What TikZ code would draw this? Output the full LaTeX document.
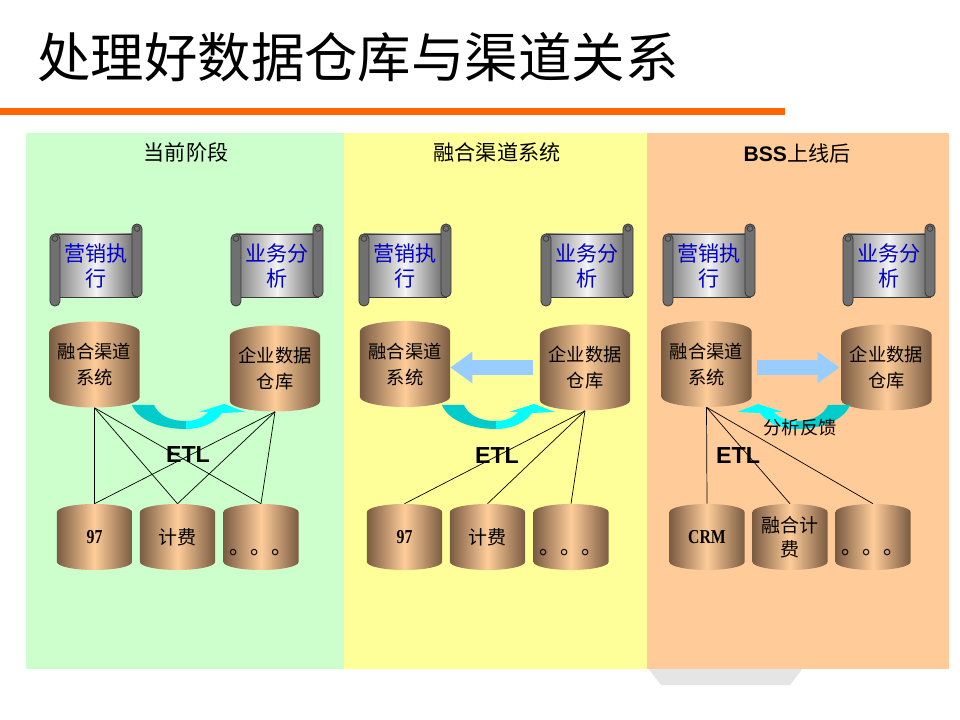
\documentclass[tikz,border=0pt]{standalone}
\usepackage{fontspec}
\setmainfont{Noto Sans CJK SC}
\newfontfamily\arialfont{Liberation Sans}
\newfontfamily\timesfont[FakeStretch=0.8]{Liberation Serif}
\usepackage{tikz}
\usetikzlibrary{arrows.meta}
\definecolor{panelgreen}{HTML}{CCFFCC}
\definecolor{panelyellow}{HTML}{FFFF99}
\definecolor{panelorange}{HTML}{FFCC99}
\definecolor{titlebar}{HTML}{FF6600}
\definecolor{cyldark}{HTML}{7A5C42}
\definecolor{cyllight}{HTML}{FFCC99}
\definecolor{flowblue}{HTML}{99CCFF}
\definecolor{cyandark}{HTML}{00CCCC}
\definecolor{cyanlight}{HTML}{00FFFF}
\definecolor{scrolltext}{HTML}{0000CC}
\definecolor{scrolldark}{HTML}{7C7C7C}
\definecolor{scrolllight}{HTML}{F4F4F4}
\definecolor{scrolledge}{HTML}{3A3A3A}

\tikzset{
  bigcyl/.style={rectangle,inner sep=0pt,minimum width=2.25cm,minimum height=2.15cm,align=center,font=\fontsize{13pt}{18.5pt}\selectfont},
  smallcyl/.style={rectangle,inner sep=0pt,minimum width=1.875cm,minimum height=1.65cm,align=center,font=\fontsize{13.5pt}{17pt}\selectfont},
  cylshade/.style={left color=cyldark,right color=cyldark,middle color=cyllight},
  scrolltxt/.style={align=center,text=scrolltext,font=\fontsize{15pt}{18pt}\selectfont},
  etl/.style={font=\arialfont\bfseries\fontsize{16.5pt}{18pt}\selectfont},
  head/.style={font=\fontsize{15pt}{18pt}\selectfont},
  link/.style={line width=0.5pt},
  flowarrow/.style={draw=flowblue,line width=0.375cm,-{Triangle[width=0.75cm,length=0.55cm]}},
}

\begin{document}
\begin{tikzpicture}[x=0.025cm,y=-0.025cm]
\useasboundingbox (0,0) rectangle (960,720);
\fill[white] (0,0) rectangle (960,720);

% title and bar
\node[anchor=west,inner sep=0pt,font=\fontsize{38pt}{42pt}\selectfont] (title) at (37,57) {处理好数据仓库与渠道关系};
\fill[titlebar] (0,108) rectangle (785,115);

% panels
\fill[black!10] (648,668) -- (803,668) -- (790,685) -- (661,685) -- cycle;
\fill[panelgreen] (26,133) rectangle (344,669);
\fill[panelyellow] (344,133) rectangle (647,669);
\fill[panelorange] (647,133) rectangle (949,669);

\node[head] (stage1) at (186,152) {当前阶段};
\node[head] (stage2) at (497,152) {融合渠道系统};
\node[head] (stage3) at (797,153) {{\arialfont\bfseries BSS}上线后};

% scrolls
\foreach \cx/\cy in {96/265,277/265,405/265,587/265,709/265,889/265}{
  \shade[draw=scrolledge,line width=0.6pt,left color=scrolldark,right color=scrolldark!80!black,middle color=scrolllight]
    ([shift={(-1.025cm,0.775cm)}]\cx,\cy) rectangle ([shift={(1.025cm,-0.8cm)}]\cx,\cy);
  \filldraw[fill=scrolldark!90!black,draw=scrolledge,line width=0.6pt,rounded corners=0.12cm]
    ([shift={(-1.15cm,0.775cm)}]\cx,\cy) rectangle ([shift={(-0.9cm,-1.025cm)}]\cx,\cy);
  \filldraw[fill=scrolldark!90!black,draw=scrolledge,line width=0.6pt,rounded corners=0.12cm]
    ([shift={(0.9cm,1.025cm)}]\cx,\cy) rectangle ([shift={(1.15cm,-0.8cm)}]\cx,\cy);
  \draw[scrolledge,line width=0.5pt] ([shift={(-1.025cm,0.66cm)}]\cx,\cy) circle (0.07cm);
  \draw[scrolledge,line width=0.5pt] ([shift={(1.025cm,0.91cm)}]\cx,\cy) circle (0.07cm);
}
\node[scrolltxt] (mkt1) at (96,266) {营销执\\行};
\node[scrolltxt] (ana1) at (277,266) {业务分\\析};
\node[scrolltxt] (mkt2) at (405,266) {营销执\\行};
\node[scrolltxt] (ana2) at (587,266) {业务分\\析};
\node[scrolltxt] (mkt3) at (709,266) {营销执\\行};
\node[scrolltxt] (ana3) at (889,266) {业务分\\析};

% cylinders
\foreach \cx/\cy in {94.5/364.5,275/368.5,405/364,585/367.5,706.5/364,886.5/367.5}
  \shade[cylshade] ([shift={(-1.125cm,0.825cm)}]\cx,\cy) -- ++(0,-1.65cm)
    arc[start angle=180,end angle=360,x radius=1.125cm,y radius=0.25cm] -- ++(0,1.65cm)
    arc[start angle=0,end angle=180,x radius=1.125cm,y radius=0.25cm] -- cycle;
\foreach \cx in {94.5,177.5,261,404.5,487.5,571,707,790,873}
  \shade[cylshade] ([shift={(-0.9375cm,0.625cm)}]\cx,537) -- ++(0,-1.25cm)
    arc[start angle=180,end angle=360,x radius=0.9375cm,y radius=0.2cm] -- ++(0,1.25cm)
    arc[start angle=0,end angle=180,x radius=0.9375cm,y radius=0.2cm] -- cycle;

\node[bigcyl] (chan1) at (94.5,364.5) {融合渠道\\系统};
\node[bigcyl] (dw1) at (275,368.5) {企业数据\\仓库};
\node[bigcyl] (chan2) at (405,364) {融合渠道\\系统};
\node[bigcyl] (dw2) at (585,367.5) {企业数据\\仓库};
\node[bigcyl] (chan3) at (706.5,364) {融合渠道\\系统};
\node[bigcyl] (dw3) at (886.5,367.5) {企业数据\\仓库};

\node[smallcyl,font=\timesfont\bfseries\fontsize{14pt}{16pt}\selectfont] (old1) at (94.5,537) {97};
\node[smallcyl] (bill1) at (177.5,537) {计费};
\node[smallcyl,font=\fontsize{15pt}{16pt}\selectfont] (etc1) at (261,537) {\smash{\raisebox{-0.85em}{。。。}}};
\node[smallcyl,font=\timesfont\bfseries\fontsize{14pt}{16pt}\selectfont] (old2) at (404.5,537) {97};
\node[smallcyl] (bill2) at (487.5,537) {计费};
\node[smallcyl,font=\fontsize{15pt}{16pt}\selectfont] (etc2) at (571,537) {\smash{\raisebox{-0.85em}{。。。}}};
\node[smallcyl,font=\timesfont\bfseries\fontsize{14pt}{16pt}\selectfont] (crm3) at (707,537) {CRM};
\node[smallcyl] (bill3) at (790,537) {融合计\\费};
\node[smallcyl,font=\fontsize{15pt}{16pt}\selectfont] (etc3) at (873,537) {\smash{\raisebox{-0.85em}{。。。}}};

% ETL links
\foreach \a/\b in {chan1/old1,chan1/bill1,chan1/etc1,dw1/old1,dw1/bill1,dw1/etc1,
                   dw2/old2,dw2/bill2,dw2/etc2,chan3/crm3,chan3/bill3,chan3/etc3}
  \draw[link] (\a.south) -- (\b.north);

\node[etl] (etl1) at (188,455) {ETL};
\node[etl] (etl2) at (497,456) {ETL};
\node[etl] (etl3) at (738,456) {ETL};

% curved arrows
\foreach \o/\s in {0/1,310/1,982/-1}{
  \begin{scope}[shift={(\o,0)},xscale=\s]
    \fill[cyandark] (132,405) .. controls (138,420) and (160,429) .. (186,429) -- (186,421)
      .. controls (168,421) and (158,414) .. (154,405) -- cycle;
    \fill[cyanlight] (186,429) .. controls (200,429) and (214,424) .. (222,413) -- (245,412)
      -- (224,404) -- (199,412) -- (208,412) .. controls (203,418) and (195,421) .. (186,421) -- cycle;
  \end{scope}
}
\node[font=\fontsize{13pt}{15pt}\selectfont] (fb3) at (800,428) {分析反馈};

% block arrows
\draw[flowarrow] ([xshift=-0.175cm]dw2.west) -- (chan2.east |- dw2.west);
\draw[flowarrow] ([xshift=0.14cm]chan3.east |- dw3.west) -- ([xshift=-0.04cm]dw3.west);
\end{tikzpicture}
\end{document}
